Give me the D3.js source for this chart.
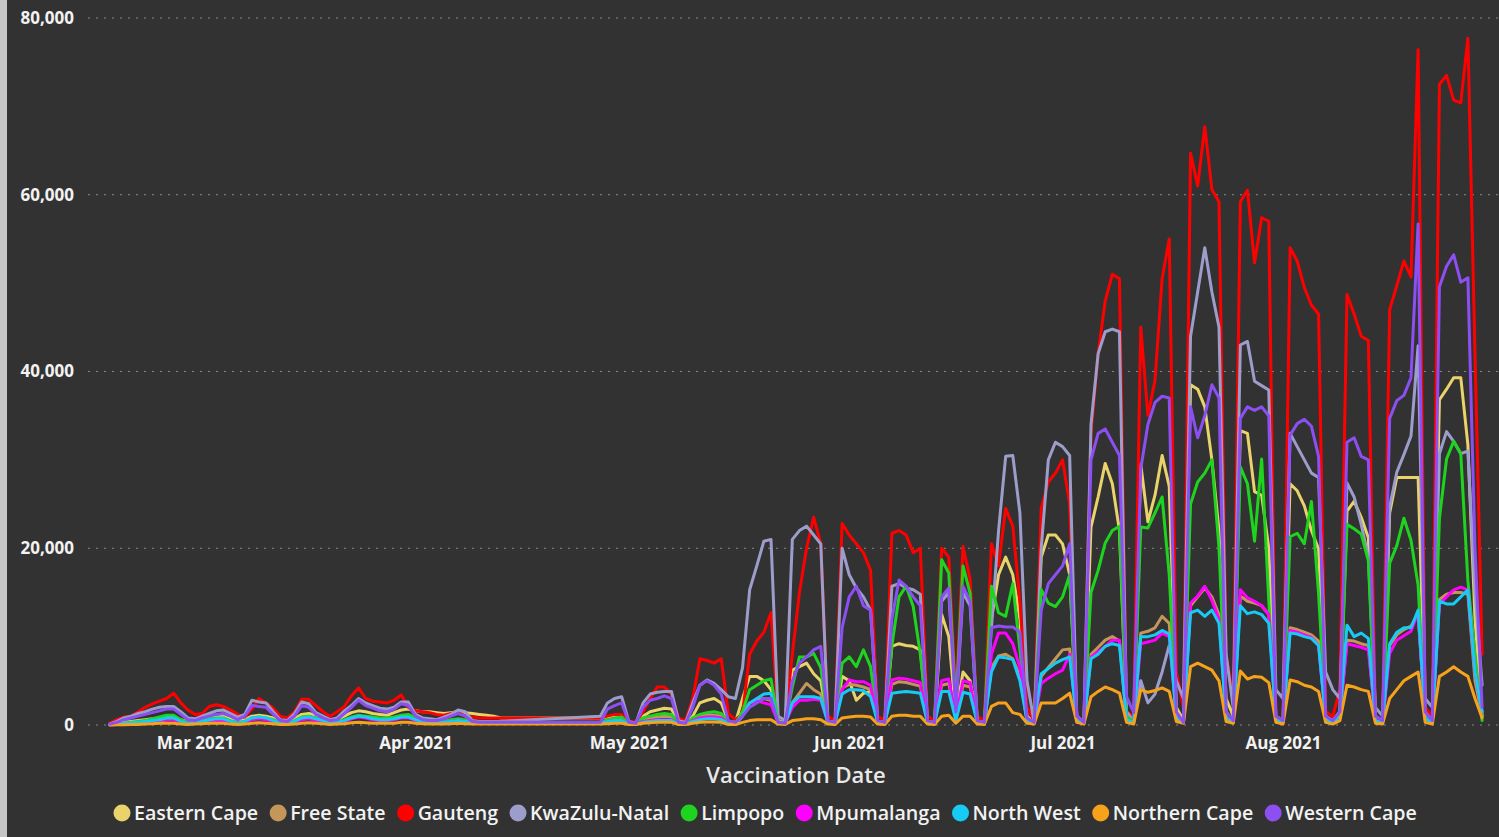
<!DOCTYPE html>
<html>
<head>
<meta charset="utf-8">
<script src="https://cdn.jsdelivr.net/npm/d3@7"></script>
<style>
  html, body { margin: 0; padding: 0; background: #323232; }
  svg { display: block; }
</style>
</head>
<body>
<svg id="chart" width="1499" height="837"></svg>
<script>
// ---------------- DATA ----------------
const provinces = ["Eastern Cape", "Free State", "Gauteng", "KwaZulu-Natal", "Limpopo",
                   "Mpumalanga", "North West", "Northern Cape", "Western Cape"];
const provinceColors = ["#E9D36A", "#C4965A", "#FF0000", "#9D9DCC", "#1ED41E",
                        "#FF00FF", "#16CBF5", "#F7A21B", "#8C4FF2"];
const yTickValues = [0, 20000, 40000, 60000, 80000];
const monthTicks = ["2021-03-01", "2021-04-01", "2021-05-01", "2021-06-01", "2021-07-01", "2021-08-01"];
const firstDay = "2021-02-17";   // daily values from here (Wed)
const lastDay  = "2021-08-29";   // to here inclusive
// Rows: Feb 17-21, then one row per Mon..Sun week. null = no report (lines join across).
const easternCape = [
  100,200,300,400,500,
  600,700,800,900,900,600,400,
  500,700,900,1000,1000,700,500,
  600,1000,1100,1000,800,400,300,
  700,1200,1300,1100,900,500,600,
  1000,1400,1600,1500,1300,1200,1100,
  1400,1700,1800,1600,1500,1500,1400,
  1300,1400,1500,1400,1300,1200,1100,
  1000,800,null,null,null,null,null,
  null,null,null,null,null,null,null,
  null,800,900,1000,1000,300,200,
  1000,1500,1700,1900,1800,300,200,
  1000,2500,2800,3000,2500,400,300,
  3000,5500,5500,5000,4000,500,300,
  6200,6600,7000,5800,5000,400,300,
  5500,5000,2800,3600,3800,400,300,
  8900,9200,9000,8900,8500,500,300,
  12500,10000,1000,6000,5000,500,300,
  12000,17000,19000,17000,12000,1000,300,
  19000,21500,21500,20500,17000,1000,300,
  22400,25800,29600,27300,22000,1000,500,
  29500,23000,26000,30500,27000,2000,500,
  38500,38000,36000,30000,22000,3000,1000,
  33300,33000,26400,26000,20000,1000,500,
  27300,26500,24800,22000,19900,1000,500,
  1500,24200,25300,23500,21200,1000,500,
  24000,28000,28000,28000,28000,1500,500,
  36800,38000,39300,39300,31700,12000,1000
];
const freeState = [
  20,50,100,150,200,
  300,400,500,600,600,300,200,
  200,300,500,600,600,300,200,
  300,700,800,700,500,200,100,
  300,700,800,600,400,200,300,
  500,800,1000,900,700,600,600,
  700,900,900,600,400,400,300,
  300,500,600,500,300,300,200,
  200,200,null,null,null,null,null,
  null,null,null,null,null,null,null,
  null,200,500,600,700,100,100,
  600,800,900,1000,900,100,100,
  700,1000,1200,1100,1000,200,100,
  1500,2500,2800,3000,2800,300,200,
  2500,3600,4700,4000,3500,300,200,
  4200,4600,4500,4300,4000,400,200,
  4600,4900,4800,4600,4400,400,200,
  4500,4700,600,4500,4300,400,200,
  6500,7800,8000,7500,5500,500,200,
  5500,6500,7500,8500,8600,500,200,
  8000,8800,9600,10000,9500,600,300,
  10400,10600,11000,12300,11500,800,300,
  13500,14500,15500,14500,12500,800,300,
  14600,14000,13800,13500,12500,600,300,
  11000,10800,10500,10200,9500,600,300,
  1000,9600,9500,9200,9000,500,200,
  9000,10200,10800,11200,12500,700,300,
  14200,14800,15000,15000,14800,5000,1000
];
const gauteng = [
  200,600,900,1000,1500,
  2000,2400,2700,3000,3600,2500,1700,
  1200,1300,2100,2300,2100,1700,1200,
  900,1800,3000,2500,1900,1000,800,
  1500,2900,2900,2200,1500,1000,1500,
  2100,3300,4200,3000,2700,2600,2500,
  2800,3400,2000,1600,1500,1400,1200,
  1100,1300,1500,1000,900,800,800,
  800,800,null,null,null,null,null,
  null,null,null,null,null,null,null,
  null,800,1000,1200,1200,400,300,
  1500,3000,4300,4300,3500,800,500,
  3000,7500,7300,7000,7500,1300,600,
  1300,8000,9500,10500,12700,1000,500,
  8000,15000,20000,23500,20500,1000,500,
  22800,21500,20500,19500,17500,1000,500,
  21700,22000,21500,19500,20000,1000,500,
  20000,19000,3000,20200,16500,1000,500,
  20500,18000,24500,22500,14000,2000,500,
  24500,27500,28500,30000,25000,1000,300,
  33000,42000,48000,51000,50500,1500,1000,
  45000,35000,39000,50500,55000,6000,2000,
  64700,61000,67700,60600,59200,8000,3000,
  59200,60500,52300,57400,57000,1000,500,
  54000,52500,49500,47500,46500,1500,1000,
  4000,48700,46500,44000,43500,1000,500,
  47000,49700,52500,50700,76400,2000,1000,
  72500,73500,70700,70400,77700,42000,8000
];
const kwazuluNatal = [
  100,400,800,1000,1300,
  1500,1800,2000,2100,2100,1500,800,
  700,1000,1300,1600,1700,1300,900,
  1200,2800,2600,2500,1500,600,500,
  1300,2600,2400,1400,1000,600,800,
  1600,2200,3000,2500,2200,1900,1800,
  2000,2600,2600,1200,800,700,600,
  900,1200,1700,1500,500,400,400,
  400,400,null,null,null,null,null,
  null,null,null,null,null,null,null,
  null,1000,2500,3000,3200,400,200,
  2500,3500,3700,3800,3800,500,300,
  2500,4500,5100,4700,4000,3200,3000,
  6500,15300,18000,20800,21000,1000,500,
  21000,22000,22500,21500,20500,500,300,
  20000,17000,15500,14500,13000,500,300,
  15700,16000,15500,15300,14800,500,300,
  14000,15000,1500,15000,13500,500,300,
  11000,22000,30400,30500,24000,5000,300,
  20000,30000,32000,31500,30500,1000,300,
  34000,42000,44500,44800,44500,1500,400,
  5000,2500,3500,6000,9000,5000,3000,
  44000,49000,54000,49000,45000,8000,2000,
  43000,43400,38900,38400,37900,4000,3000,
  33000,31500,30000,28500,28000,6000,4000,
  3000,27400,25800,22700,19000,2000,1000,
  24700,28600,30600,32700,42900,3000,2000,
  30700,33200,32100,30700,31000,15000,4500
];
const limpopo = [
  50,100,200,300,400,
  500,700,900,1100,1100,600,300,
  300,500,700,800,800,500,300,
  400,800,900,800,600,300,200,
  500,900,1000,800,600,300,400,
  600,900,1100,1000,900,800,800,
  900,1100,1200,800,600,500,400,
  400,600,700,600,400,300,300,
  300,300,null,null,null,null,null,
  null,null,null,null,null,null,null,
  null,300,600,800,900,200,100,
  800,1000,1200,1300,1200,200,100,
  800,1200,1400,1500,1300,300,200,
  1500,4000,4500,5000,5200,400,200,
  4300,7700,7700,8100,6500,400,200,
  7000,7700,6600,8500,6600,400,200,
  9000,14500,15700,13400,8000,500,200,
  18700,17200,2000,18000,14900,500,200,
  15700,12700,12300,16000,8500,500,200,
  15300,13800,13400,14500,17000,800,300,
  15000,17500,20600,22000,22500,1000,400,
  22400,22300,24000,25800,17000,1000,400,
  25000,27500,28500,30000,20000,1500,500,
  29200,27300,20800,30100,14000,1000,400,
  21300,21700,20500,25300,14900,1000,400,
  1500,22700,22200,21600,18600,500,200,
  18300,20300,23400,20900,15800,1000,300,
  23400,30100,32100,30700,16300,8000,500
];
const mpumalanga = [
  20,50,100,150,200,
  300,400,500,600,600,300,200,
  200,300,400,500,500,300,200,
  300,600,700,600,400,200,100,
  300,600,700,500,400,200,300,
  400,700,900,800,600,500,500,
  600,800,800,500,400,300,300,
  300,400,500,400,300,200,200,
  200,200,null,null,null,null,null,
  null,null,null,null,null,null,null,
  null,200,400,500,500,100,100,
  400,500,600,600,600,100,100,
  500,800,900,900,800,200,100,
  1000,2500,2700,2500,2300,300,200,
  2000,2800,2800,2900,2800,300,200,
  4000,5100,4900,4900,4500,400,200,
  5100,5300,5200,5000,4800,400,200,
  5000,5200,800,5000,4800,400,200,
  8000,10400,10400,9200,6500,600,200,
  4700,5300,5800,6200,8000,500,200,
  7700,8300,8900,9600,9600,600,300,
  9200,9400,9600,10400,10000,800,300,
  13800,14600,15700,14100,12000,800,300,
  15300,14400,14000,13500,12500,600,300,
  10700,10500,10200,9900,9000,600,300,
  1000,9200,9000,8800,8500,500,200,
  8100,9600,10100,10600,12700,700,300,
  13700,14500,15300,15600,15300,6000,1500
];
const northWest = [
  50,100,200,250,300,
  400,500,600,800,800,400,200,
  300,400,600,700,700,400,200,
  400,800,900,800,500,200,200,
  400,800,900,700,500,300,300,
  500,800,1000,900,700,600,600,
  700,900,900,600,400,300,300,
  300,400,500,400,300,200,200,
  200,200,null,null,null,null,null,
  null,null,null,null,null,null,null,
  null,200,400,500,500,100,100,
  300,400,500,500,500,100,100,
  400,600,700,700,600,200,100,
  1000,2500,3000,3500,3600,300,200,
  2500,3200,3200,3200,3000,300,200,
  3500,4000,4000,3900,3200,300,200,
  3600,3700,3800,3700,3600,300,200,
  3800,3800,500,3700,3500,300,200,
  6000,7700,7600,7400,5000,500,200,
  5800,6400,7000,7400,7700,500,200,
  7500,8000,8900,9200,9000,600,300,
  10000,10000,10200,10700,10300,800,300,
  12700,13000,12300,13000,11500,800,300,
  13500,12600,12800,12500,11500,600,300,
  10400,10300,10000,9800,9000,600,300,
  1000,11300,10000,10400,9800,500,200,
  9200,10500,11000,11000,13000,700,300,
  14000,13700,13700,14500,15300,6000,1500
];
const northernCape = [
  10,20,40,50,60,
  100,150,200,200,200,100,50,
  100,150,200,200,200,100,50,
  100,200,250,200,150,50,50,
  100,200,250,200,150,50,100,
  150,250,300,250,200,200,200,
  200,300,300,200,150,100,100,
  100,150,200,150,100,100,100,
  100,100,null,null,null,null,null,
  null,null,null,null,null,null,null,
  null,100,150,200,200,50,50,
  200,250,300,300,300,50,50,
  200,300,350,350,300,50,50,
  300,500,600,600,600,100,50,
  500,600,700,700,600,100,50,
  800,900,1000,1000,900,100,50,
  1000,1100,1100,1000,1000,100,50,
  1000,1100,200,1000,1000,100,50,
  2100,2500,2500,1400,1200,200,100,
  2500,2500,2500,3000,3600,300,100,
  3200,3800,4300,4000,3600,300,100,
  4000,3700,3900,4200,3800,400,200,
  6600,7000,6600,6200,5000,400,200,
  6100,5200,5500,5400,4800,300,100,
  5100,4900,4500,4300,3800,300,100,
  500,4500,4300,4000,3800,200,100,
  3000,4000,5000,5500,6000,300,100,
  5500,6000,6600,6000,5500,3000,800
];
const westernCape = [
  100,300,600,800,1000,
  1200,1400,1600,1800,1800,1200,600,
  500,800,1000,1200,1300,1000,600,
  1000,2200,2100,2000,1200,500,400,
  1000,2200,2000,1200,800,500,600,
  1300,2000,2800,2200,1900,1600,1500,
  1800,2400,2200,1000,600,500,500,
  700,1000,1300,1000,400,300,300,
  300,300,null,null,null,null,null,
  null,null,null,null,null,null,null,
  null,300,1800,2200,2500,300,200,
  2000,2800,3000,3300,3000,300,200,
  2000,4500,5000,4500,3500,500,300,
  1000,2000,2500,3000,3000,300,200,
  5000,7000,7700,8500,8900,500,300,
  11000,14500,15700,13500,13000,500,300,
  12000,16400,15700,14500,13500,500,300,
  14500,15500,1500,15700,14000,500,300,
  11000,11200,11100,11100,10500,800,300,
  13000,16000,17000,18000,20500,1000,300,
  30000,33000,33500,32000,30500,3200,1400,
  29000,34000,36500,37200,37000,1500,300,
  36000,32500,35000,38500,37000,1500,500,
  34700,36000,35600,36000,35000,1000,500,
  32800,34100,34600,33800,30400,1000,500,
  1500,32000,32500,30400,30000,1000,500,
  34700,36700,37300,39300,56700,1500,500,
  49600,51900,53200,50100,50600,20000,2000
];
const seriesValues = [easternCape, freeState, gauteng, kwazuluNatal, limpopo,
                      mpumalanga, northWest, northernCape, westernCape];

// ---------------- CHART ----------------
const W = 1499, H = 837;
const FONT = "'Open Sans', 'Segoe UI', sans-serif";
const parse = d3.utcParse("%Y-%m-%d");
const dates = d3.utcDay.range(parse(firstDay), d3.utcDay.offset(parse(lastDay), 1));

const series = provinces.map((name, i) => ({
  name, color: provinceColors[i],
  points: dates.map((date, j) => ({ date, value: seriesValues[i][j] }))
              .filter(p => p.value !== null && p.value !== undefined)
}));

const svg = d3.select("#chart");
svg.append("rect").attr("width", W).attr("height", H).attr("fill", "#323232");
svg.append("rect").attr("x", 0).attr("y", 0).attr("width", 7).attr("height", H).attr("fill", "#c6c6c6");

const x = d3.scaleUtc()
  .domain([parse(monthTicks[0]), parse(monthTicks[5])])
  .range([195, 1283]);
const y = d3.scaleLinear().domain([0, 80000]).range([725, 18]);

// gridlines
svg.append("g").selectAll("line").data(yTickValues).join("line")
  .attr("x1", 88).attr("x2", W)
  .attr("y1", d => y(d)).attr("y2", d => y(d))
  .attr("stroke", "#8a8a8a").attr("stroke-width", 1.2)
  .attr("stroke-dasharray", "2,6");

// y axis labels
const yAxis = svg.append("g").attr("transform", "translate(80,0)")
  .call(d3.axisLeft(y).tickValues(yTickValues).tickSize(0).tickPadding(6).tickFormat(d3.format(",")));
yAxis.select(".domain").remove();
yAxis.selectAll("text").attr("fill", "#f2f2f2").style("font-family", FONT)
  .style("font-size", "17px").style("font-weight", 700);

// x axis labels
const xAxis = svg.append("g").attr("transform", "translate(0,725)")
  .call(d3.axisBottom(x).tickValues(monthTicks.map(parse)).tickSize(0).tickPadding(12)
        .tickFormat(d3.utcFormat("%b %Y")));
xAxis.select(".domain").remove();
xAxis.selectAll("text").attr("fill", "#f2f2f2").style("font-family", FONT)
  .style("font-size", "17px").style("font-weight", 700);

// axis title
svg.append("text").attr("x", 796).attr("y", 783).attr("text-anchor", "middle")
  .attr("fill", "#e8e8e8").style("font-family", FONT).style("font-size", "22px")
  .style("font-weight", 600).text("Vaccination Date");

// lines
const line = d3.line().x(d => x(d.date)).y(d => y(d.value));
svg.append("g").selectAll("path").data(series).join("path")
  .attr("d", d => line(d.points))
  .attr("fill", "none")
  .attr("stroke", d => d.color)
  .attr("stroke-width", 3)
  .attr("stroke-linejoin", "round")
  .attr("stroke-linecap", "round");

// legend
const legend = svg.append("g");
let cx = 122;
series.forEach(s => {
  const g = legend.append("g");
  g.append("circle").attr("cx", cx).attr("cy", 813).attr("r", 8.5).attr("fill", s.color);
  const t = g.append("text").attr("x", cx + 12).attr("y", 820)
    .attr("fill", "#f2f2f2").style("font-family", FONT).style("font-size", "19.6px")
    .style("font-weight", 600).text(s.name);
  const w = t.node().getComputedTextLength();
  cx = cx + 12 + w + 20;
});
</script>
</body>
</html>
